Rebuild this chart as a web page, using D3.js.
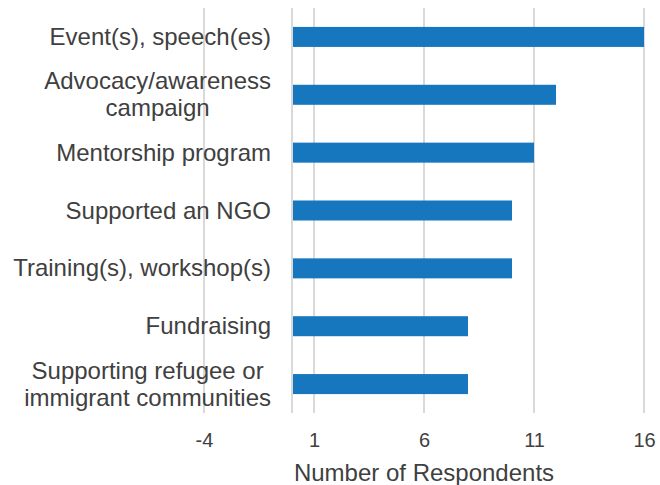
<!DOCTYPE html>
<html>
<head>
<meta charset="utf-8">
<script src="https://cdn.jsdelivr.net/npm/d3@7"></script>
<style>
  body { margin: 0; background: #fff; }
  text { font-family: "Liberation Sans", Arial, sans-serif; fill: #404040; }
</style>
</head>
<body>
<script>
// chart data
var categories = [
  "Event(s), speech(es)",
  "Advocacy/awareness\ncampaign",
  "Mentorship program",
  "Supported an NGO",
  "Training(s), workshop(s)",
  "Fundraising",
  "Supporting refugee or\nimmigrant communities"
];
var values = [16, 12, 11, 10, 10, 8, 8];
var xTicks = [-4, 1, 6, 11, 16];
var xTitle = "Number of Respondents";

var width = 660, height = 485;
var plot = {left: 204, right: 644, top: 8, bottom: 413};
var labelRight = 271;

var svg = d3.select('body')
  .append('svg')
  .attr('width', width)
  .attr('height', height);

var xScale = d3.scaleLinear()
  .domain([-4, 16])
  .range([plot.left, plot.right]);

var yScale = d3.scaleBand()
  .domain(categories)
  .range([plot.top, plot.bottom])
  .paddingInner(0.654)
  .paddingOuter(0.327);

// gridlines
svg.append('g')
  .selectAll('line')
  .data(xTicks)
  .enter()
  .append('line')
  .attr('x1', function(d) { return xScale(d); })
  .attr('x2', function(d) { return xScale(d); })
  .attr('y1', plot.top)
  .attr('y2', plot.bottom)
  .attr('stroke', '#d9d9d9')
  .attr('stroke-width', 2);

// category axis line at zero
svg.append('line')
  .attr('x1', xScale(0))
  .attr('x2', xScale(0))
  .attr('y1', plot.top)
  .attr('y2', plot.bottom)
  .attr('stroke', '#d9d9d9')
  .attr('stroke-width', 2);

// bars
svg.append('g')
  .selectAll('rect')
  .data(values)
  .enter()
  .append('rect')
  .attr('x', xScale(0) + 1)
  .attr('y', function(d, i) { return yScale(categories[i]); })
  .attr('width', function(d) { return xScale(d) - xScale(0) - 1; })
  .attr('height', yScale.bandwidth())
  .attr('fill', '#1777be');

// x axis tick labels (plain hyphen for negatives)
var xAxis = d3.axisBottom(xScale)
  .tickValues(xTicks)
  .tickFormat(function(d) { return String(d); })
  .tickSize(0)
  .tickPadding(0);
var xAxisNodes = svg.append('g')
  .attr('transform', 'translate(0,' + 447 + ')')
  .call(xAxis);
xAxisNodes.select('.domain').remove();
xAxisNodes.selectAll('text')
  .attr('dy', 0)
  .attr('y', 0)
  .style('font-size', '20px')
  .style('font-family', '"Liberation Sans", Arial, sans-serif')
  .attr('fill', '#404040');

// x title
svg.append('text')
  .attr('x', (plot.left + plot.right) / 2)
  .attr('y', 481)
  .attr('text-anchor', 'middle')
  .style('font-size', '24px')
  .text(xTitle);

// category labels, centred lines in a right-aligned block
var lineHeight = 27;
categories.forEach(function(c) {
  var lines = c.split('\n');
  var cy = yScale(c) + yScale.bandwidth() / 2;
  var firstBase = cy + 8 - (lines.length - 1) * lineHeight / 2;
  var t = svg.append('text')
    .attr('text-anchor', 'middle')
    .style('font-size', '24px');
  lines.forEach(function(l, j) {
    t.append('tspan')
      .attr('x', 0)
      .attr('y', firstBase + j * lineHeight)
      .text(l);
  });
  var w = t.node().getBBox().width;
  t.selectAll('tspan').attr('x', labelRight - w / 2);
});
</script>
</body>
</html>
